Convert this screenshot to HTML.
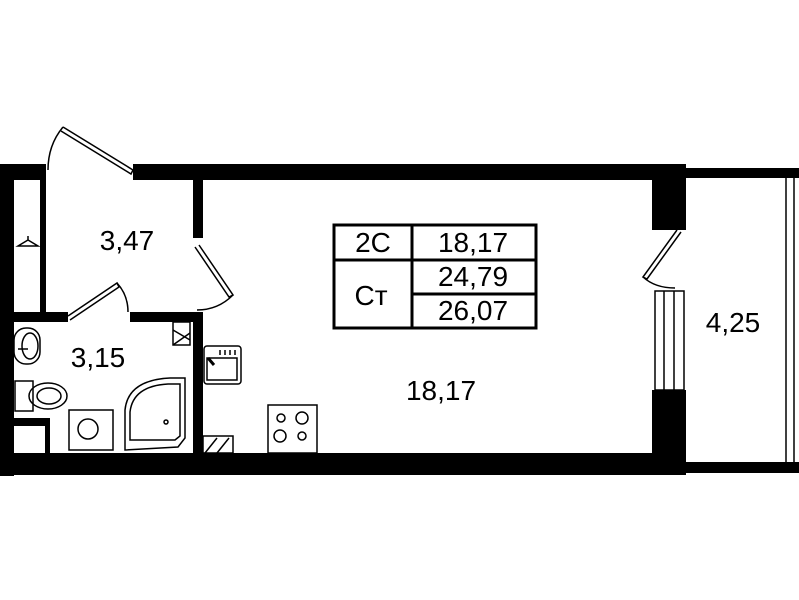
<!DOCTYPE html>
<html><head><meta charset="utf-8"><style>body{margin:0;background:#fff}svg{display:block}text{font-family:"Liberation Sans",sans-serif;fill:#000}</style></head>
<body>
<svg width="799" height="600" viewBox="0 0 799 600" xmlns="http://www.w3.org/2000/svg">
<g fill="#000">
<rect x="0" y="164" width="46" height="16"/>
<rect x="133" y="164" width="553" height="16"/>
<rect x="0" y="164" width="14" height="312"/>
<rect x="0" y="453" width="686" height="22"/>
<rect x="686" y="462" width="113" height="11"/>
<rect x="685" y="168" width="114" height="10"/>
<rect x="40" y="180" width="6" height="132"/>
<rect x="14" y="312" width="54" height="10"/>
<rect x="130" y="312" width="73" height="10"/>
<rect x="193" y="180" width="10" height="58"/>
<rect x="193" y="312" width="10" height="143"/>
<rect x="652" y="178" width="34" height="52"/>
<rect x="652" y="390" width="34" height="65"/>
<rect x="14" y="418" width="36" height="8"/>
<rect x="45" y="418" width="5" height="37"/>
</g>
<g fill="none" stroke="#000" stroke-width="1.5">
<line x1="786" y1="178" x2="786" y2="462"/>
<line x1="794" y1="178" x2="794" y2="462"/>
<rect x="655" y="291" width="29" height="99"/>
<line x1="664" y1="291" x2="664" y2="390"/>
<line x1="674" y1="291" x2="674" y2="390"/>
<path d="M677,230 L643,277 L647,279 L681,232"/>
<path d="M643,277 Q655,288 675,288"/>
<path d="M63,127 L133,170 L131,174 L61,131"/>
<path d="M63,127 Q48,145 48,170"/>
<path d="M199,245 L233,295 L229,297 L195,247"/>
<path d="M233,295 Q218,310 197,310"/>
<path d="M68,316 L117,283 L119,287 L70,320"/>
<path d="M117,283 Q128,295 128,312"/>
<rect x="334" y="225" width="202" height="103" stroke-width="3"/>
<line x1="412" y1="225" x2="412" y2="328" stroke-width="3"/>
<line x1="334" y1="260" x2="536" y2="260" stroke-width="3"/>
<line x1="412" y1="294" x2="536" y2="294" stroke-width="3"/>
<path d="M18,246 L28,240 L38,246 Z M28,240 L28,236"/>
<rect x="14" y="328" width="26" height="36" rx="12"/>
<ellipse cx="30" cy="346" rx="8" ry="13"/>
<line x1="18" y1="349" x2="28" y2="349"/>
<rect x="15" y="381" width="18" height="30"/>
<ellipse cx="48" cy="396" rx="19" ry="13"/>
<ellipse cx="49" cy="396" rx="12" ry="8"/>
<rect x="69" y="410" width="44" height="40"/>
<circle cx="88" cy="429" r="10"/>
<path d="M125,450 L125,410 Q128,380 170,378 L185,378 L185,438 L178,447 Z"/>
<path d="M130,440 L130,412 Q133,386 168,384 L180,384 L180,436 L175,440 Z"/>
<circle cx="166" cy="422" r="2"/>
<rect x="173" y="322" width="17" height="23"/>
<line x1="173" y1="330" x2="190" y2="340"/>
<line x1="173" y1="345" x2="190" y2="333"/>
<rect x="203" y="436" width="30" height="17"/>
<line x1="205" y1="453" x2="217" y2="438"/>
<line x1="217" y1="453" x2="229" y2="438"/>
<rect x="204" y="346" width="37" height="38" rx="3"/>
<rect x="207" y="358" width="30" height="22"/>
<line x1="208" y1="358" x2="214" y2="365" stroke-width="3"/>
<line x1="220" y1="350" x2="220" y2="355"/><line x1="225" y1="350" x2="225" y2="355"/><line x1="230" y1="350" x2="230" y2="355"/><line x1="235" y1="350" x2="235" y2="355"/>
<rect x="268" y="405" width="49" height="48"/>
<circle cx="281" cy="418" r="4"/><circle cx="302" cy="418" r="6"/>
<circle cx="280" cy="436" r="6"/><circle cx="302" cy="436" r="4"/>
</g>
<g font-size="28">
<text x="127" y="250" text-anchor="middle">3,47</text>
<text x="98" y="367" text-anchor="middle">3,15</text>
<text x="441" y="400" text-anchor="middle">18,17</text>
<text x="733" y="332" text-anchor="middle">4,25</text>
<text x="373" y="252" text-anchor="middle">2С</text>
<text x="371" y="305" text-anchor="middle">Ст</text>
<text x="473" y="252" text-anchor="middle">18,17</text>
<text x="473" y="286" text-anchor="middle">24,79</text>
<text x="473" y="320" text-anchor="middle">26,07</text>
</g>
</svg>
</body></html>
